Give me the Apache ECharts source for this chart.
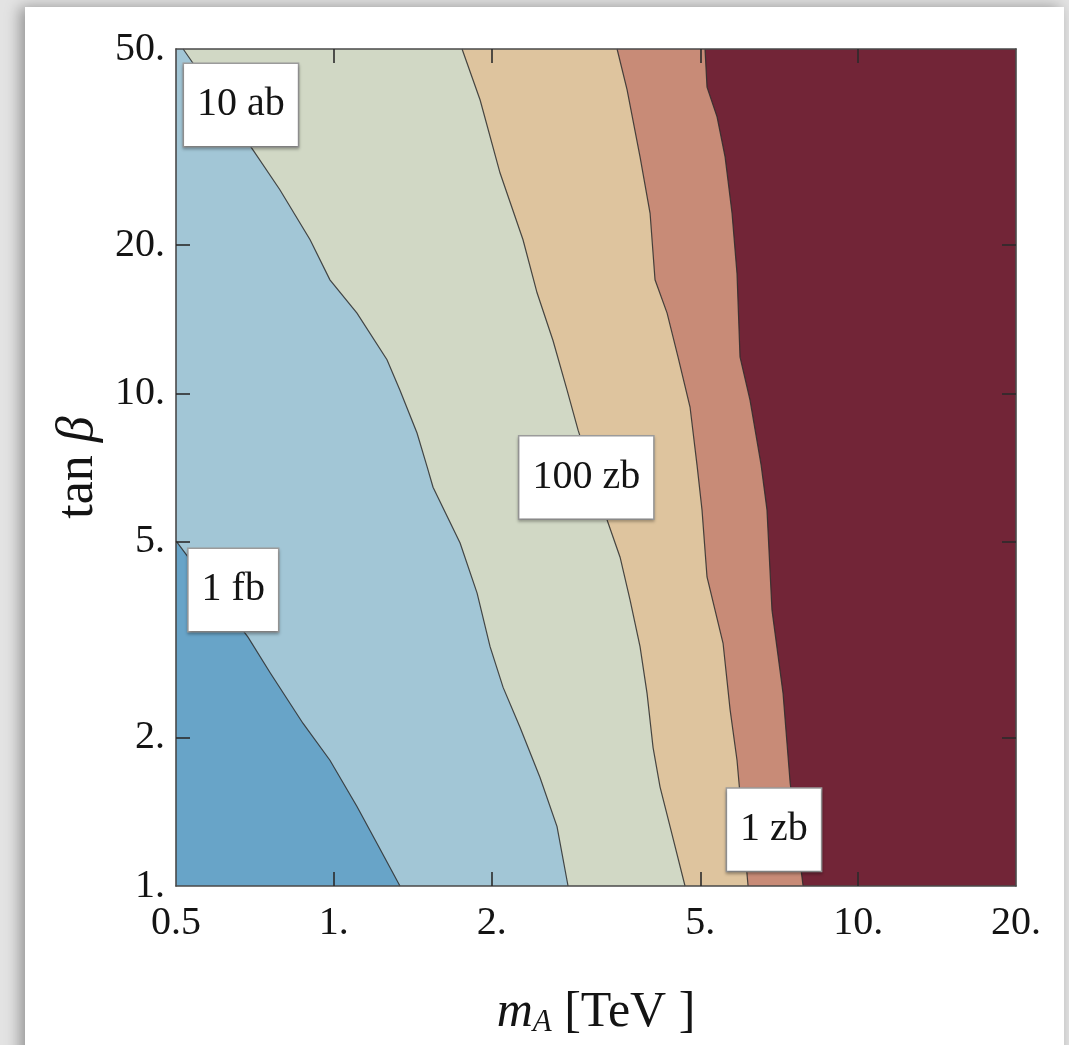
<!DOCTYPE html>
<html>
<head>
<meta charset="utf-8">
<script src="https://cdn.jsdelivr.net/npm/echarts@6/dist/echarts.min.js"></script>
<style>
  html, body { margin: 0; padding: 0; background: #e3e3e3; overflow: hidden; }
  #card { position: absolute; left: 25px; top: 7px; width: 1039px; height: 1100px; background: #fff;
          box-shadow: -5px 0 14px rgba(0, 0, 0, 0.35); }
  #chart { position: absolute; left: 0; top: 0; width: 1069px; height: 1045px; }
</style>
</head>
<body>
<div id="card"></div>
<div id="chart"></div>
<script>
// Axis ticks: m_A [TeV] and tan(beta), both logarithmic
const xTickValues = [0.5, 1, 2, 5, 10, 20];
const xTickLabels = ['0.5', '1.', '2.', '5.', '10.', '20.'];
const yTickValues = [1, 2, 5, 10, 20, 50];
const yTickLabels = ['1.', '2.', '5.', '10.', '20.', '50.'];

// Cross-section contour lines, points as [m_A (TeV), tan beta], top/left end first
const contour1fb = [[0.5, 5.02], [0.686, 3.20], [0.756, 2.71], [0.873, 2.14], [0.983, 1.80],
  [1.107, 1.45], [1.209, 1.22], [1.337, 1.0]];
const contour10ab = [[0.516, 50], [0.701, 31.2], [0.789, 25.9], [0.901, 20.5], [0.983, 17.0],
  [1.107, 14.55], [1.263, 11.7], [1.337, 10.15], [1.441, 8.31], [1.506, 7.1], [1.546, 6.45],
  [1.741, 4.97], [1.876, 3.93], [1.986, 3.06], [2.103, 2.53], [2.265, 2.10], [2.473, 1.66],
  [2.665, 1.32], [2.797, 1.0]];
const contour100zb = [[1.756, 50], [1.901, 39.4], [2.075, 28.0], [2.295, 20.5], [2.441, 16.0],
  [2.618, 12.8], [2.785, 10.15], [2.923, 8.42], [3.334, 5.46], [3.515, 4.65], [3.672, 3.81],
  [3.837, 3.06], [3.957, 2.46], [4.063, 1.91], [4.189, 1.59], [4.378, 1.32], [4.675, 1.0]];
const contour10zb = [[3.469, 50], [3.625, 41.3], [3.837, 30.2], [4.010, 23.2], [4.098, 17.0],
  [4.321, 14.55], [4.534, 11.85], [4.779, 9.38], [4.928, 7.15], [5.037, 5.80], [5.149, 4.24],
  [5.525, 3.11], [5.698, 2.28], [5.874, 1.80], [6.166, 1.0]];
const contour1zb = [[5.104, 50], [5.149, 41.85], [5.381, 36.4], [5.574, 30.2], [5.747, 23.2],
  [5.874, 17.5], [5.952, 11.85], [6.219, 9.69], [6.53, 7.15], [6.700, 5.80], [6.849, 3.63],
  [7.190, 2.46], [7.417, 1.62], [7.851, 1.0]];

// Fill colours, from the largest cross section (left) to the smallest (right)
const regionColors = ['#68a4c8', '#a2c6d6', '#d1d8c5', '#dec49e', '#c88b77', '#722537'];

// Contour labels and where they sit
const labelTexts = ['10 ab', '1 fb', '100 zb', '1 zb'];
const labelPositions = [[0.665, 38.5], [0.643, 3.99], [3.03, 6.75], [6.91, 1.30]];

const contours = [contour1fb, contour10ab, contour100zb, contour10zb, contour1zb];
const xMin = xTickValues[0], xMax = xTickValues[xTickValues.length - 1];
const yMin = yTickValues[0], yMax = yTickValues[yTickValues.length - 1];
const lg = v => Math.log10(v);
const toLog = p => [lg(p[0]), lg(p[1])];

function tickLabel(v, values, labels) {
  let best = 0;
  values.forEach((t, i) => { if (Math.abs(lg(t) - v) < Math.abs(lg(values[best]) - v)) best = i; });
  return labels[best];
}

const serif = 'Liberation Serif, Times New Roman, serif';
const ink = '#141414';

// Region i covers everything to the right of contour i-1 (region 0 is the whole frame)
function regionSeries(i) {
  let outline, line = null;
  if (i === 0) {
    outline = [[xMin, yMin], [xMin, yMax], [xMax, yMax], [xMax, yMin]];
  } else {
    line = contours[i - 1];
    outline = line.concat([[xMax, yMin], [xMax, yMax], [line[0][0], yMax]]);
  }
  return {
    type: 'custom',
    coordinateSystem: 'cartesian2d',
    silent: true,
    z: 2 + i,
    data: [[lg(1), lg(2)]],
    renderItem: function (params, api) {
      const children = [{
        type: 'polygon',
        shape: { points: outline.map(p => api.coord(toLog(p))) },
        style: { fill: regionColors[i] }
      }];
      if (line) {
        children.push({
          type: 'polyline',
          shape: { points: line.map(p => api.coord(toLog(p))) },
          style: { stroke: 'rgba(45,45,45,0.85)', lineWidth: 1.2, fill: null }
        });
      }
      return { type: 'group', children: children };
    }
  };
}

const tickStyle = { color: '#2b2b2b', width: 1.6 };
const frameLine = { show: true, onZero: false, lineStyle: { color: '#4a4a4a', width: 1.6 } };
const labelFont = { fontFamily: serif, fontSize: 40, color: ink };

function xAxis(pos, showLabels) {
  return {
    type: 'value', position: pos, min: lg(xMin), max: lg(xMax), z: 20,
    axisLine: frameLine, splitLine: { show: false },
    axisTick: { show: true, inside: true, length: 14, lineStyle: tickStyle,
      customValues: xTickValues.slice(1, -1).map(lg) },
    axisLabel: Object.assign({ show: showLabels, margin: 17, customValues: xTickValues.map(lg),
      formatter: v => tickLabel(v, xTickValues, xTickLabels) }, labelFont),
    name: showLabels ? '{i|m}{s|A} [TeV ]' : '',
    nameLocation: 'middle', nameGap: 102,
    nameTextStyle: { fontFamily: serif, fontSize: 50, color: ink,
      rich: { i: { fontFamily: serif, fontStyle: 'italic', fontSize: 50, color: ink },
              s: { fontFamily: serif, fontStyle: 'italic', fontSize: 31, color: ink,
                   verticalAlign: 'bottom', lineHeight: 30 } } }
  };
}
function yAxis(pos, showLabels) {
  return {
    type: 'value', position: pos, min: lg(yMin), max: lg(yMax), z: 20,
    axisLine: frameLine, splitLine: { show: false },
    axisTick: { show: true, inside: true, length: 14, lineStyle: tickStyle,
      customValues: yTickValues.slice(1, -1).map(lg) },
    axisLabel: Object.assign({ show: showLabels, margin: 11, padding: [8, 0, 0, 0],
      customValues: yTickValues.map(lg),
      formatter: v => tickLabel(v, yTickValues, yTickLabels) }, labelFont),
    name: showLabels ? '{n|tan }{g|β}' : '',
    nameLocation: 'middle', nameGap: 68, nameRotate: 90,
    nameTextStyle: { fontFamily: serif, fontSize: 50, color: ink,
      rich: { n: { fontFamily: serif, fontSize: 52, color: ink },
              g: { fontFamily: serif, fontStyle: 'italic', fontSize: 52, color: ink } } }
  };
}

const series = regionColors.map((c, i) => regionSeries(i));
series.push({
  type: 'scatter',
  silent: true,
  z: 30,
  symbolSize: 1,
  itemStyle: { color: 'rgba(0,0,0,0)', opacity: 1 },
  data: labelTexts.map((t, i) => ({ name: t, value: toLog(labelPositions[i]) })),
  label: {
    show: true, position: 'inside', formatter: '{b}', opacity: 1,
    fontFamily: serif, fontSize: 40, lineHeight: 44, color: ink,
    backgroundColor: '#ffffff', borderColor: '#9c9c9c', borderWidth: 1.5,
    padding: [19, 13, 19, 13],
    shadowColor: 'rgba(0,0,0,0.25)', shadowBlur: 3, shadowOffsetY: 2
  },
  emphasis: { disabled: true }
});

const chart = echarts.init(document.getElementById('chart'), null, { renderer: 'canvas' });
chart.setOption({
  backgroundColor: 'transparent',
  animation: false,
  grid: { left: 176, top: 49, width: 840, height: 837 },
  xAxis: [xAxis('bottom', true), xAxis('top', false)],
  yAxis: [yAxis('left', true), yAxis('right', false)],
  series: series
});
</script>
</body>
</html>
